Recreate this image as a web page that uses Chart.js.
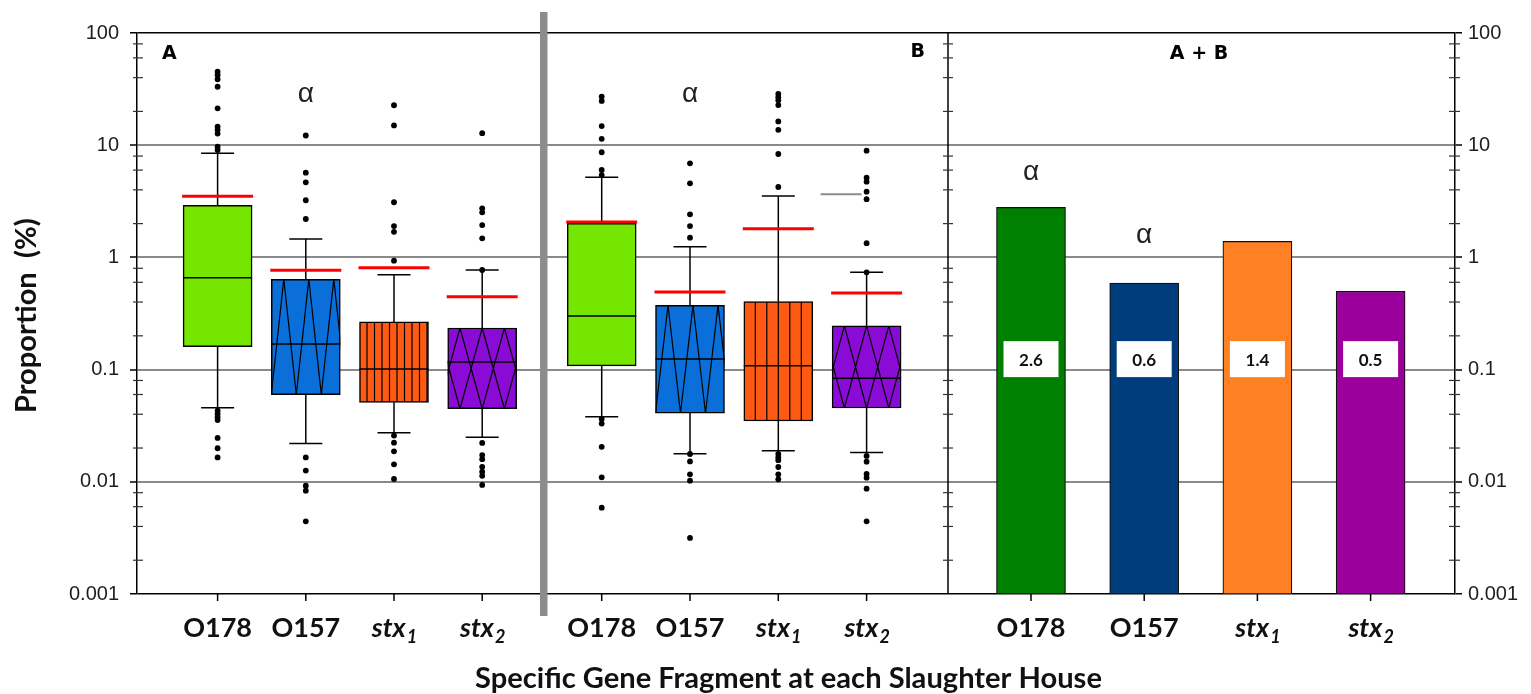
<!DOCTYPE html>
<html>
<head>
<meta charset="utf-8">
<title>Specific gene fragment proportions per slaughter house</title>
<script src="https://cdn.jsdelivr.net/npm/chart.js@4.4.1/dist/chart.umd.min.js"></script>
<style>
  html, body { margin: 0; padding: 0; background: #fff; }
  #wrap { width: 1531px; height: 694px; }
</style>
</head>
<body>
<div id="wrap"><canvas id="geneChart" width="1531" height="694"></canvas></div>
<script>
const categories = ['O178', 'O157', 'stx1', 'stx2'];

// slaughter house A, proportion (%)
const aLowerWhisker = [0.0458, 0.0220, 0.0274, 0.0249];
const aQ1 = [0.160, 0.0598, 0.0511, 0.0448];
const aMedian = [0.659, 0.169, 0.101, 0.117];
const aQ3 = [2.91, 0.638, 0.266, 0.235];
const aUpperWhisker = [8.47, 1.46, 0.701, 0.772];
const aMean = [3.51, 0.767, 0.809, 0.447];
const aOutliers = [
  [45.2, 42.3, 38.7, 33.2, 21.3, 14.6, 13.7, 12.7, 9.7, 9.06, 0.0430, 0.0402, 0.0376, 0.0355, 0.0246, 0.0199, 0.0165],
  [12.2, 5.69, 4.67, 3.23, 2.20, 0.0165, 0.0126, 0.00923, 0.00833, 0.00444],
  [22.7, 15.0, 3.10, 1.90, 1.69, 0.935, 0.0258, 0.0223, 0.0187, 0.0143, 0.0106],
  [12.8, 2.74, 2.52, 1.94, 1.48, 0.772, 0.0222, 0.0173, 0.0159, 0.0136, 0.0123, 0.0113, 0.00937],
];

// slaughter house B
const bLowerWhisker = [0.0380, 0.0178, 0.0189, 0.0182];
const bQ1 = [0.108, 0.0410, 0.0348, 0.0455];
const bMedian = [0.300, 0.124, 0.108, 0.0836];
const bQ3 = [2.01, 0.374, 0.403, 0.245];
const bUpperWhisker = [5.17, 1.245, 3.53, 0.736];
const bMean = [2.07, 0.492, 1.80, 0.482];
const bOutliers = [
  [27.1, 24.8, 14.8, 11.4, 8.65, 6.01, 5.42, 0.0363, 0.0330, 0.0205, 0.01096, 0.00588],
  [6.90, 4.57, 2.42, 1.90, 1.50, 0.0177, 0.0152, 0.01166, 0.01023, 0.00316],
  [28.6, 26.7, 25.1, 22.8, 16.3, 13.7, 8.35, 4.24, 0.0177, 0.0165, 0.0156, 0.01355, 0.01166, 0.01052],
  [8.94, 5.13, 4.73, 3.85, 3.30, 1.34, 0.736, 0.0170, 0.0151, 0.01174, 0.01089, 0.00868, 0.00444],
];
const bGrayMark = [null, null, null, 3.65];

// both houses together
const abValues = [2.79, 0.591, 1.39, 0.499];
const abLabels = ['2.6', '0.6', '1.4', '0.5'];
const abLabelAt = 0.124;

// significance markers (value at the glyph baseline)
const alphaA = [null, 24.4, null, null];
const alphaB = [null, 24.4, null, null];
const alphaAB = [4.90, 1.336, null, null];

const yTickValues = [0.001, 0.01, 0.1, 1, 10, 100];
const yTickLabels = ['0.001', '0.01', '0.1', '1', '10', '100'];
const yMinorSteps = [2, 4, 6, 8];

const yTitle = 'Proportion  (%)';
const xTitle = 'Specific Gene Fragment at each Slaughter House';

// styles and layout
const boxColors = ['#74e600', '#0b6fd9', '#ff5a14', '#8a0ad6'];
const boxPatterns = ['none', 'zigzag', 'stripes', 'diamonds'];
const abColors = ['#008000', '#003d7c', '#ff8124', '#9c009c'];
const BOX_WIDTH = 69;
const PLOT = { left: 137, right: 1455, top: 33, bottom: 594 };
const PANELS = {
  A: { first: 217.6, step: 88.2, stripeGap: 7.5 },
  B: { first: 601.7, step: 88.3, stripeGap: 11.5 },
  AB: { first: 1031, step: 113.2 },
};
const GRAY_DIVIDER_X = 540;
const AB_DIVIDER_X = 948;
const LABEL_FONT = 'Lato, "Open Sans", sans-serif';
const TICK_FONT = '"Liberation Sans", Arial, sans-serif';

const boxPanels = [
  { axis: 'xA', panel: PANELS.A, lo: aLowerWhisker, q1: aQ1, med: aMedian, q3: aQ3, hi: aUpperWhisker, mean: aMean, alpha: alphaA },
  { axis: 'xB', panel: PANELS.B, lo: bLowerWhisker, q1: bQ1, med: bMedian, q3: bQ3, hi: bUpperWhisker, mean: bMean, alpha: alphaB },
];

function axisRange(panel) {
  const min = -(panel.first - PLOT.left) / panel.step;
  return { min, max: min + (PLOT.right - PLOT.left) / panel.step };
}

function hiddenAxis(panel) {
  return { type: 'linear', axis: 'x', display: false, offset: false, bounds: 'data', ...axisRange(panel) };
}

function fittedFont(ctx, text, style, family, width) {
  ctx.font = `${style} 100px ${family}`;
  const size = (100 * width) / ctx.measureText(text).width;
  return `${style} ${size.toFixed(1)}px ${family}`;
}

function drawBoxPattern(ctx, kind, left, top, right, bottom, stripeGap) {
  if (kind === 'none') return;
  ctx.save();
  ctx.beginPath();
  ctx.rect(left, top, right - left, bottom - top);
  ctx.clip();
  ctx.strokeStyle = '#000';
  ctx.lineWidth = 1.2;
  ctx.beginPath();
  if (kind === 'zigzag') {
    const half = 12.5;
    ctx.moveTo(left, bottom);
    let k = 1;
    for (let x = left + half; x < right + half; x += half, k++) {
      ctx.lineTo(x, k % 2 ? top : bottom);
    }
  } else if (kind === 'stripes') {
    for (let x = left + stripeGap; x < right - 1; x += stripeGap) {
      ctx.moveTo(x, top);
      ctx.lineTo(x, bottom);
    }
  } else if (kind === 'diamonds') {
    const h = 22.2;
    for (let x = left + 12.3 - h; x < right + h; x += h) {
      ctx.moveTo(x - h, bottom);
      ctx.lineTo(x, top);
      ctx.lineTo(x + h, bottom);
    }
  }
  ctx.stroke();
  ctx.restore();
}

function hLine(ctx, x1, x2, y, color, width) {
  ctx.beginPath();
  ctx.strokeStyle = color;
  ctx.lineWidth = width;
  ctx.moveTo(x1, y);
  ctx.lineTo(x2, y);
  ctx.stroke();
}

function vLine(ctx, x, y1, y2, color, width) {
  ctx.beginPath();
  ctx.strokeStyle = color;
  ctx.lineWidth = width;
  ctx.moveTo(x, y1);
  ctx.lineTo(x, y2);
  ctx.stroke();
}

function drawAlpha(ctx, xScale, yScale, values) {
  ctx.font = `28px ${TICK_FONT}`;
  ctx.fillStyle = '#222';
  ctx.textAlign = 'center';
  ctx.textBaseline = 'alphabetic';
  values.forEach((v, i) => {
    if (v == null) return;
    ctx.fillText('α', xScale.getPixelForValue(i), yScale.getPixelForValue(v));
  });
}

function drawCategoryLabel(ctx, text, cx, baseline) {
  const sub = text.match(/^stx(\d)$/);
  ctx.fillStyle = '#111';
  ctx.textBaseline = 'alphabetic';
  if (!sub) {
    ctx.font = `bold 27px ${LABEL_FONT}`;
    ctx.textAlign = 'center';
    ctx.fillText(text, cx, baseline);
    return;
  }
  const mainFont = `italic bold 27px ${LABEL_FONT}`;
  const subFont = `italic bold 18px ${LABEL_FONT}`;
  ctx.font = mainFont;
  const wMain = ctx.measureText('stx').width;
  ctx.font = subFont;
  const wSub = ctx.measureText(sub[1]).width;
  const start = cx - (wMain + wSub) / 2;
  ctx.textAlign = 'left';
  ctx.font = mainFont;
  ctx.fillText('stx', start, baseline);
  ctx.font = subFont;
  ctx.fillText(sub[1], start + wMain + 1, baseline + 6);
}

const panelDecor = {
  id: 'panelDecor',
  afterDatasetDraw(chart, args) {
    const ds = chart.data.datasets[args.index];
    if (!ds.boxPanel) return;
    const ctx = chart.ctx;
    args.meta.data.forEach((el, i) => {
      const { x, y, base, width } = el.getProps(['x', 'y', 'base', 'width'], true);
      drawBoxPattern(ctx, boxPatterns[i], x - width / 2, Math.min(y, base), x + width / 2, Math.max(y, base), ds.boxPanel.stripeGap);
    });
  },
  afterDatasetsDraw(chart) {
    const ctx = chart.ctx;
    const yScale = chart.scales.y;
    const py = (v) => yScale.getPixelForValue(v);

    boxPanels.forEach((bp) => {
      const xScale = chart.scales[bp.axis];
      categories.forEach((c, i) => {
        const cx = xScale.getPixelForValue(i);
        vLine(ctx, cx, py(bp.q3[i]), py(bp.hi[i]), '#000', 1.5);
        vLine(ctx, cx, py(bp.q1[i]), py(bp.lo[i]), '#000', 1.5);
        hLine(ctx, cx - 16.5, cx + 16.5, py(bp.hi[i]), '#000', 1.5);
        hLine(ctx, cx - 16.5, cx + 16.5, py(bp.lo[i]), '#000', 1.5);
        hLine(ctx, cx - BOX_WIDTH / 2, cx + BOX_WIDTH / 2, py(bp.med[i]), '#000', 1.5);
        hLine(ctx, cx - 35.5, cx + 35.5, py(bp.mean[i]), '#ff0000', 3);
      });
      drawAlpha(ctx, xScale, yScale, bp.alpha);
    });

    const xB = chart.scales.xB;
    bGrayMark.forEach((v, i) => {
      if (v == null) return;
      const cx = xB.getPixelForValue(i);
      hLine(ctx, cx - 46, cx - 5, py(v), '#8c8c8c', 2);
    });

    const xAB = chart.scales.xAB;
    abLabels.forEach((label, i) => {
      const cx = xAB.getPixelForValue(i);
      const cy = py(abLabelAt);
      ctx.fillStyle = '#fff';
      ctx.fillRect(cx - 27.5, cy - 18, 55, 36);
      ctx.fillStyle = '#111';
      ctx.font = `bold 17px ${LABEL_FONT}`;
      ctx.textAlign = 'center';
      ctx.textBaseline = 'middle';
      ctx.fillText(label, cx, cy + 1);
    });
    drawAlpha(ctx, xAB, yScale, alphaAB);
  },
  afterDraw(chart) {
    const ctx = chart.ctx;
    const yScale = chart.scales.y;
    const { top, bottom } = chart.chartArea;
    ctx.save();

    // divider between the two houses and the frame of the combined panel
    ctx.fillStyle = '#8c8c8c';
    ctx.fillRect(GRAY_DIVIDER_X, top - 21, 7.5, bottom - top + 43);
    vLine(ctx, AB_DIVIDER_X, top, bottom, '#000', 1.5);

    // minor ticks crossing the vertical axes
    for (let exp = -3; exp <= 1; exp++) {
      yMinorSteps.forEach((m) => {
        const y = yScale.getPixelForValue(m * Math.pow(10, exp));
        hLine(ctx, PLOT.left - 4, PLOT.left + 6, y, '#333', 1.2);
        hLine(ctx, AB_DIVIDER_X - 5, AB_DIVIDER_X + 5, y, '#333', 1.2);
        hLine(ctx, PLOT.right - 6, PLOT.right + 5, y, '#333', 1.2);
      });
    }

    // category ticks and labels
    ['xA', 'xB', 'xAB'].forEach((id) => {
      const xs = chart.scales[id];
      categories.forEach((c, i) => {
        const cx = xs.getPixelForValue(i);
        vLine(ctx, cx, bottom, bottom + 7, '#000', 1.5);
        drawCategoryLabel(ctx, c, cx, bottom + 43);
      });
    });

    // panel letters
    ctx.fillStyle = '#000';
    ctx.font = 'bold 19px "DejaVu Sans", sans-serif';
    ctx.textBaseline = 'alphabetic';
    ctx.textAlign = 'left';
    ctx.fillText('A', 162, top + 26);
    ctx.textAlign = 'right';
    ctx.fillText('B', 925, top + 24);
    ctx.textAlign = 'center';
    ctx.fillText('A + B', 1199, top + 26);

    // axis titles
    ctx.fillStyle = '#111';
    ctx.font = fittedFont(ctx, xTitle, 'bold', LABEL_FONT, 627);
    ctx.textAlign = 'center';
    ctx.fillText(xTitle, 788.5, bottom + 94);

    ctx.translate(36, 315.7);
    ctx.rotate(-Math.PI / 2);
    ctx.font = fittedFont(ctx, yTitle, 'bold', LABEL_FONT, 195);
    ctx.fillText(yTitle, 0, 0);
    ctx.restore();
  },
};

function buildBoxDataset(label, axis, panel, q1, q3) {
  return {
    type: 'bar',
    label,
    xAxisID: axis,
    order: 2,
    grouped: false,
    boxPanel: panel,
    data: categories.map((c, i) => ({ x: i, y: [q1[i], q3[i]] })),
    backgroundColor: boxColors,
    borderColor: '#000',
    borderWidth: 1.5,
    borderSkipped: false,
    barThickness: BOX_WIDTH,
  };
}

function buildOutlierDataset(label, axis, outliers) {
  return {
    type: 'scatter',
    label,
    xAxisID: axis,
    order: 0,
    data: outliers.flatMap((vals, i) => vals.map((v) => ({ x: i, y: v }))),
    pointRadius: 2.9,
    pointBackgroundColor: '#000',
    pointBorderWidth: 0,
    showLine: false,
  };
}

function logAxis(position, width, padding, withGrid) {
  const isEdge = (c) => c.tick && (c.tick.value === yTickValues[0] || c.tick.value === yTickValues[yTickValues.length - 1]);
  return {
    type: 'logarithmic',
    position,
    min: yTickValues[0],
    max: yTickValues[yTickValues.length - 1],
    afterBuildTicks: (scale) => {
      scale.ticks = yTickValues.map((v) => ({ value: v }));
    },
    afterFit: (scale) => {
      scale.width = width;
    },
    ticks: {
      autoSkip: false,
      padding,
      color: '#1e1e1e',
      font: { family: TICK_FONT, size: 20 },
      callback: (value, index) => yTickLabels[index],
    },
    grid: {
      drawOnChartArea: withGrid,
      color: (c) => (isEdge(c) ? '#000' : '#8a8a8a'),
      lineWidth: (c) => (isEdge(c) ? 1.5 : 2),
      tickColor: '#000',
      tickLength: 7,
      tickWidth: 1.5,
    },
    border: { display: true, color: '#000', width: 1.5 },
  };
}

const geneChart = new Chart(document.getElementById('geneChart'), {
  type: 'bar',
  data: {
    datasets: [
      buildOutlierDataset('A outliers', 'xA', aOutliers),
      buildOutlierDataset('B outliers', 'xB', bOutliers),
      buildBoxDataset('A', 'xA', PANELS.A, aQ1, aQ3),
      buildBoxDataset('B', 'xB', PANELS.B, bQ1, bQ3),
      {
        type: 'bar',
        label: 'A + B',
        xAxisID: 'xAB',
        order: 2,
        grouped: false,
        data: abValues.map((v, i) => ({ x: i, y: [yTickValues[0], v] })),
        backgroundColor: abColors,
        borderColor: '#111',
        borderWidth: 1.2,
        borderSkipped: false,
        barThickness: BOX_WIDTH,
      },
    ],
  },
  options: {
    responsive: false,
    animation: false,
    events: [],
    layout: { padding: { left: 0, right: 0, top: PLOT.top, bottom: 694 - PLOT.bottom } },
    plugins: { legend: { display: false }, tooltip: { enabled: false } },
    scales: {
      xA: hiddenAxis(PANELS.A),
      xB: hiddenAxis(PANELS.B),
      xAB: hiddenAxis(PANELS.AB),
      y: logAxis('left', PLOT.left, 11, true),
      yR: logAxis('right', 1531 - PLOT.right, 6, false),
    },
  },
  plugins: [panelDecor],
});
</script>
</body>
</html>
